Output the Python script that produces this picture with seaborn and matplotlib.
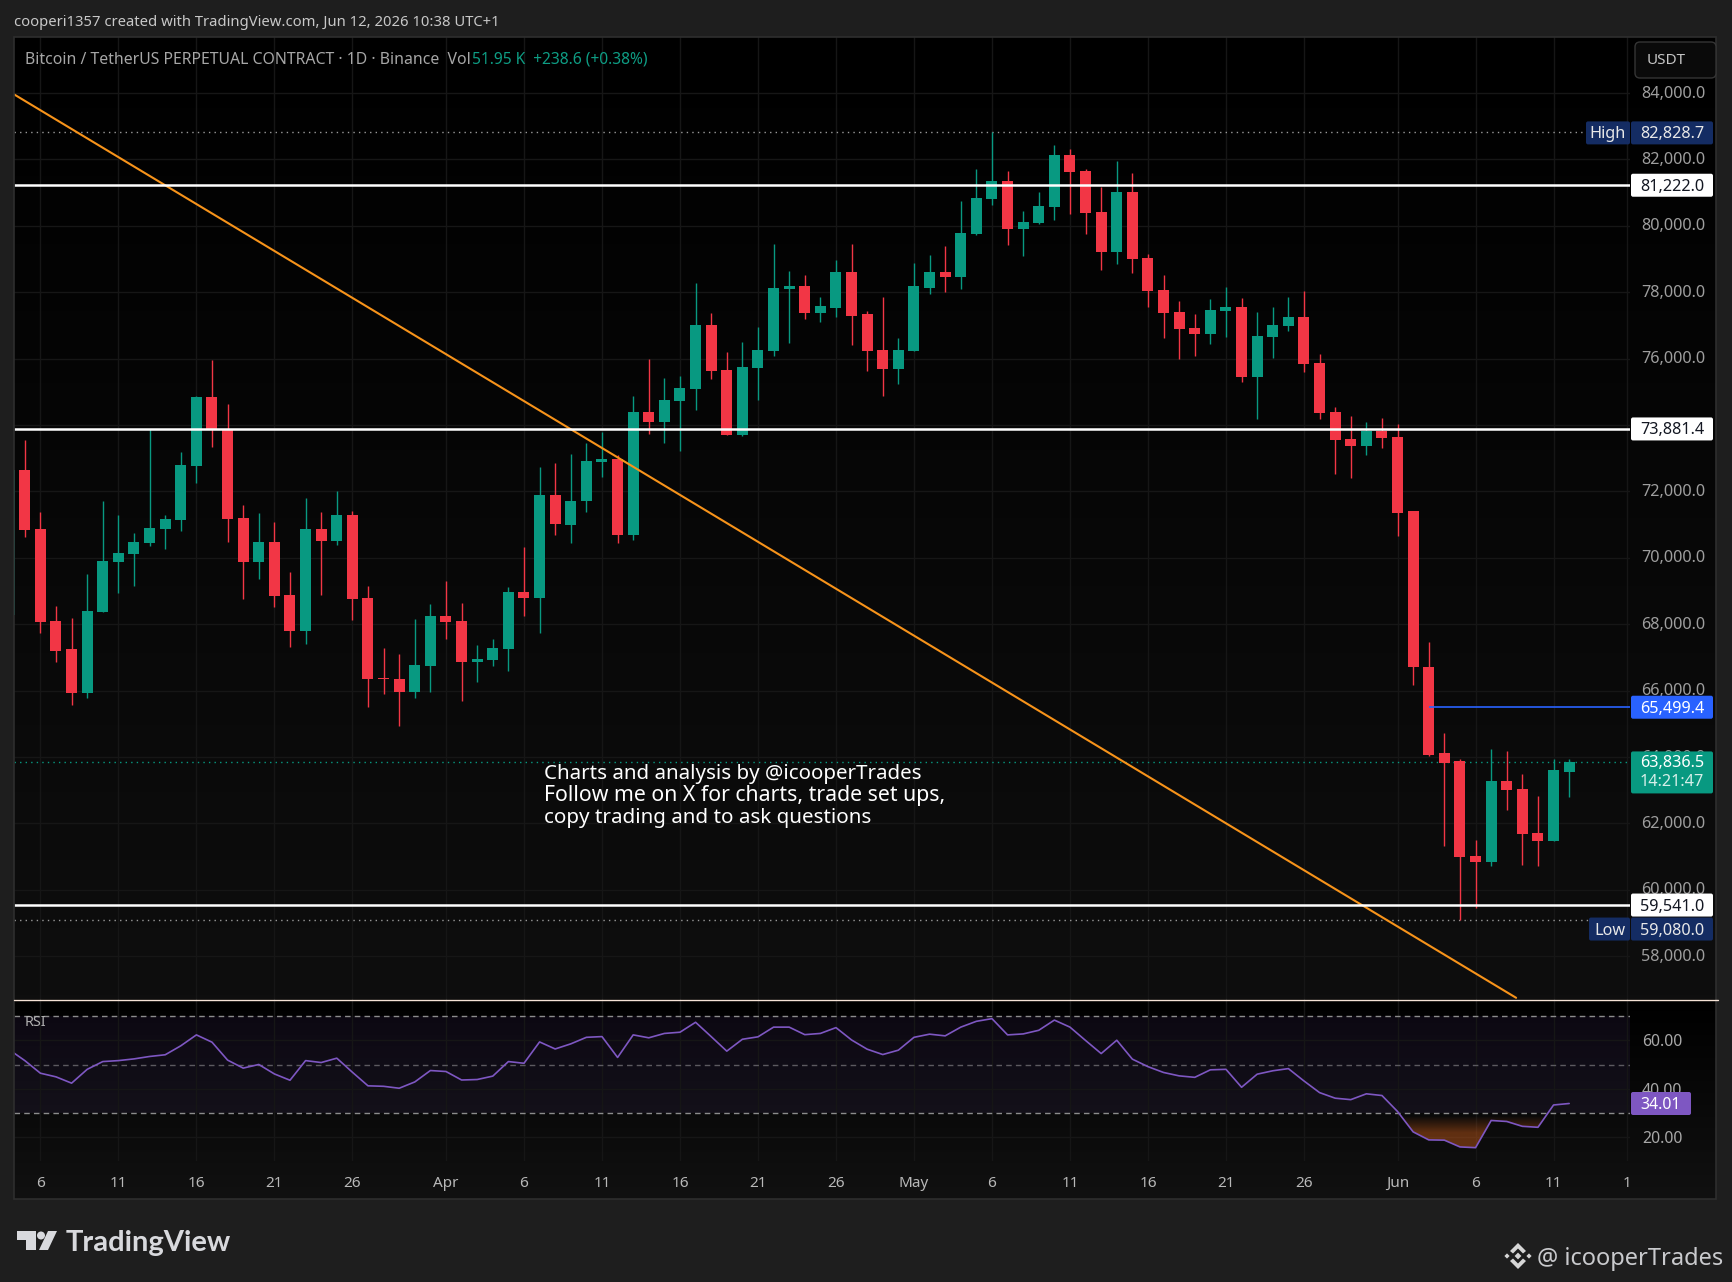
import numpy as np
import pandas as pd
import matplotlib
matplotlib.use("Agg")
import matplotlib.pyplot as plt
import seaborn as sns
from matplotlib.colors import LinearSegmentedColormap
from matplotlib.patches import FancyBboxPatch, Polygon, Circle, Rectangle
from matplotlib.transforms import ScaledTranslation

W, H = 1733, 1282

# daily candles, Mar 4 -> Jun 12
opens = [
    68273, 72630, 70853, 68082, 67239, 65913, 68353, 69859, 70100, 70431, 70853, 71124, 72751, 74829,
    73865, 71184, 69859, 70462, 68865, 67781, 70853, 70492, 71275, 68775, 66365, 66335, 65943, 66727,
    68233, 68082, 66847, 66907, 67239, 68985, 68775, 71877, 71003, 71696, 72871, 72991, 70672, 74377,
    74076, 74738, 75070, 77027, 75642, 73714, 75732, 76244, 78082, 78202, 77359, 77539, 78594, 77329,
    76274, 75702, 76244, 78141, 78623, 78472, 79767, 80822, 81364, 79918, 80099, 80581, 82147, 81665,
    80430, 79225, 81033, 79045, 78081, 77418, 76936, 76756, 77448, 77569, 75460, 76665, 76996, 77268,
    75882, 74406, 73593, 73382, 73834, 73653, 71395, 66726, 64106, 63865, 61033, 60823, 63292, 63051,
    61696, 61455, 63563,
]
closes = [
    72630, 70823, 68052, 67208, 65913, 68383, 69889, 70130, 70462, 70883, 71154, 72781, 74829, 73835,
    71154, 69859, 70462, 68835, 67781, 70853, 70492, 71275, 68745, 66335, 66335, 65943, 66757, 68233,
    68052, 66847, 66937, 67269, 68985, 68775, 71877, 71004, 71726, 72901, 72991, 70672, 74377, 74076,
    74768, 75100, 77027, 75612, 73714, 75762, 76274, 78112, 78202, 77359, 77570, 78594, 77298, 76244,
    75702, 76274, 78172, 78623, 78472, 79797, 80852, 81364, 79918, 80129, 80611, 82147, 81635, 80400,
    79225, 81032, 79015, 78051, 77388, 76906, 76756, 77478, 77569, 75460, 76695, 77027, 77268, 75852,
    74376, 73563, 73382, 73834, 73623, 71364, 66696, 64075, 63834, 61003, 60823, 63292, 63021, 61666,
    61455, 63594, 63836.5,
]
highs = [
    72630, 73534, 71365, 68534, 68172, 69498, 71726, 71275, 70733, 73865, 71275, 73202, 74859, 75973,
    74618, 71576, 71335, 71064, 69558, 71787, 71365, 71998, 71395, 69136, 67269, 67088, 68142, 68594,
    69287, 68624, 67359, 67540, 69106, 70311, 72721, 72841, 73112, 73443, 73775, 73082, 74859, 76003,
    75401, 75491, 78292, 77359, 76184, 76515, 76967, 79437, 78624, 78533, 77841, 78985, 79437, 77419,
    77841, 76606, 78865, 79135, 79406, 80761, 81725, 82828.7, 81665, 80460, 81032, 82448, 82328, 81725,
    81183, 81966, 81605, 79165, 78533, 77749, 77358, 77810, 78171, 77840, 77418, 77569, 77870, 78051,
    76153, 74557, 74286, 74105, 74225, 74045, 71395, 67479, 64738, 63955, 61515, 64256, 64166, 63503,
    62840, 63925, 63925,
]
lows = [
    68273, 70622, 67721, 66847, 65552, 65763, 68353, 68925, 69136, 70341, 70251, 70793, 72239, 73323,
    70462, 68745, 69347, 68504, 67299, 67389, 68865, 70371, 68112, 65492, 65883, 64919, 65763, 65943,
    67540, 65672, 66245, 66727, 66576, 68233, 67721, 70672, 70431, 71365, 72449, 70461, 70522, 73744,
    73443, 73232, 74467, 75371, 73684, 73654, 74768, 76064, 76485, 77178, 77088, 77268, 76395, 75612,
    74859, 75250, 76244, 77960, 78020, 78111, 79737, 80641, 79436, 79105, 80069, 80189, 80370, 79767,
    78683, 78864, 78593, 77569, 76635, 76003, 76093, 76454, 76665, 75310, 74195, 76033, 76846, 75611,
    74195, 72539, 72418, 73111, 73322, 70652, 66154, 64045, 61334, 59080, 59467, 60702, 62389, 60762,
    60702, 61455, 62810,
]
rsi = [
    56.2, 51.7, 46.5, 45.0, 42.4, 48.1, 51.3, 51.7, 52.4, 53.4, 54.1, 57.8, 62.3, 59.3, 51.9, 48.6, 50.1,
    46.2, 43.6, 51.7, 50.9, 52.7, 46.9, 41.3, 41.1, 40.3, 42.9, 47.6, 47.2, 43.7, 43.9, 45.3, 51.3, 50.6,
    59.4, 56.5, 58.6, 61.3, 61.6, 53.0, 62.3, 61.1, 62.9, 63.4, 67.5, 61.6, 55.6, 60.5, 61.5, 65.5, 65.5,
    62.4, 62.9, 65.3, 60.2, 56.4, 54.2, 56.0, 61.3, 62.6, 61.9, 65.5, 67.9, 69.0, 62.3, 62.7, 64.2, 68.4,
    65.5, 60.0, 54.6, 60.1, 52.3, 49.2, 46.8, 45.4, 44.8, 47.9, 48.1, 40.7, 46.1, 47.5, 48.4, 43.3, 38.5,
    36.2, 35.6, 38.0, 37.3, 30.7, 22.3, 19.0, 18.9, 16.1, 15.8, 27.0, 26.6, 24.6, 24.2, 33.4, 34.01,
]
days = list(range(-2, 99))  # 0 is Mar 6

x_ticks = [0, 5, 10, 15, 20, 26, 31, 36, 41, 46, 51, 56, 61, 66, 71, 76, 81, 87, 92, 97, 101.7]
x_labels = ["6", "11", "16", "21", "26", "Apr", "6", "11", "16", "21", "26", "May", "6", "11", "16", "21", "26",
            "Jun", "6", "11", "1"]
price_ticks = list(range(58000, 86000, 2000))
rsi_ticks = [20, 40, 60]

trend_x = [-1.692, 94.6]
trend_y = [83960, 56747]
white_levels = [81222.0, 73881.4, 59541.0]
blue_level = 65499.4
blue_start = 89
high_value = 82828.7
low_value = 59080.0
last_price = 63836.5

note_lines = ["Charts and analysis by @icooperTrades", "Follow me on X for charts, trade set ups,",
              "copy trading and to ask questions"]

UP = "#089981"
DOWN = "#f23645"
NAVY = "#142c63"
FONT = "Noto Sans"
XLIM = (-1.692, 101.9)


def px_axes(fig, x0, y0, x1, y1, **kw):
    # axes from pixel box, y measured from the top of the image
    return fig.add_axes([x0 / W, 1 - y1 / H, (x1 - x0) / W, (y1 - y0) / H], **kw)


def gradient(fig, x0, y0, x1, y1, top, bottom):
    ax = px_axes(fig, x0, y0, x1, y1, zorder=0)
    cmap = LinearSegmentedColormap.from_list("pane", [top, bottom])
    ax.imshow(np.linspace(0, 1, 256)[:, None], aspect="auto", cmap=cmap)
    ax.axis("off")


def style_axes(ax):
    ax.set_facecolor("none")
    for s in ax.spines.values():
        s.set_visible(False)
    ax.set_xlabel("")
    ax.set_ylabel("")
    ax.set_xlim(*XLIM)
    ax.set_xticks(x_ticks)
    ax.grid(True, color="#161616", lw=1.0)
    ax.set_axisbelow(True)


def draw_price(ax, fig):
    df = pd.DataFrame({"day": days, "open": opens, "high": highs, "low": lows, "close": closes})
    df["color"] = np.where(df["close"] >= df["open"], UP, DOWN)
    ax.vlines(df["day"], df["low"], df["high"], colors=df["color"], lw=1.0, zorder=3)
    ax.bar(df["day"], (df["close"] - df["open"]).abs(), bottom=df[["open", "close"]].min(axis=1),
           width=0.705, color=df["color"], lw=0, zorder=3)
    ax.plot(trend_x, trend_y, color="#f7931a", lw=1.5, zorder=4)
    ax.hlines(white_levels, XLIM[0], XLIM[1], colors="white", lw=1.8, zorder=5)
    ax.hlines(blue_level, blue_start, XLIM[1], colors="#2962ff", lw=1.2, zorder=5)
    ax.hlines(high_value, XLIM[0], 99.08, colors="#9a9a9a", lw=1, linestyles=(0, (1, 3)), zorder=2)
    ax.hlines(low_value, XLIM[0], 99.27, colors="#9a9a9a", lw=1, linestyles=(0, (1, 3)), zorder=2)
    ax.hlines(last_price, XLIM[0], XLIM[1], colors=UP, lw=1, linestyles=(0, (1, 3)), zorder=2)

    ax.set_ylim(56711, 85687)
    style_axes(ax)
    ax.set_xticklabels([])
    ax.tick_params(axis="x", length=0, labelbottom=False)
    ax.yaxis.tick_right()
    ax.set_yticks(price_ticks)
    ax.set_yticklabels([f"{p:,.1f}" for p in price_ticks], fontsize=11.7, color="#9e9e9e", family=FONT)
    ax.tick_params(axis="y", length=0, pad=8.0)
    up = ScaledTranslation(0, 1.5 / 100, fig.dpi_scale_trans)
    for lab in ax.get_yticklabels():
        lab.set_transform(lab.get_transform() + up)


def draw_rsi(ax):
    ax.axhspan(30, 70, color="#7e57c2", alpha=0.09, lw=0, zorder=0)
    sns.lineplot(x=days, y=rsi, ax=ax, color="#7e57c2", lw=1.2, zorder=4)
    for level, col in [(70, "#8c8c8c"), (50, "#5c5a60"), (30, "#8c8c8c")]:
        ax.hlines(level, XLIM[0], XLIM[1], colors=col, lw=1, linestyles=(0, (4, 3)), zorder=2)

    # oversold area fades out towards the 30 level
    d = np.array(days, dtype=float)
    r = np.array(rsi)
    fill = ax.fill_between(d, r, 30, where=r < 30, interpolate=True, color="none", lw=0)
    rgba = np.zeros((64, 1, 4))
    rgba[..., :3] = matplotlib.colors.to_rgb("#d8621a")
    rgba[:, 0, 3] = np.clip((np.linspace(0, 15, 64) - 1) / 7 * 0.42, 0, 0.42)
    im = ax.imshow(rgba, extent=(85, 97, 15, 30), origin="upper", aspect="auto", zorder=3)
    im.set_clip_path(fill.get_paths()[0], ax.transData)

    ax.set_ylim(10.3, 77.1)
    style_axes(ax)
    ax.set_xticklabels(x_labels, fontsize=11, color="#b8b8b8", family=FONT)
    ax.tick_params(axis="x", length=0, pad=10.7)
    ax.yaxis.tick_right()
    ax.set_yticks(rsi_ticks)
    ax.set_yticklabels([f"{v:.2f}" for v in rsi_ticks], fontsize=11.4, color="#a8a8a8", family=FONT)
    ax.tick_params(axis="y", length=0, pad=8.6)


def tag(ov, x0, x1, yc, h, color, text, text_color, fs=11.7):
    box = FancyBboxPatch((x0, yc - h / 2), x1 - x0, h, boxstyle="round,pad=0,rounding_size=2",
                         fc=color, ec="none", zorder=5)
    ov.add_patch(box)
    ov.text((x0 + x1) / 2, yc + 1.5, text, color=text_color, fontsize=fs, family=FONT,
            ha="center", va="center", zorder=6)


def logo(ov):
    grey = "#d8d9dd"
    t = [(17, 1231), (36, 1231), (36, 1250), (26, 1250), (26, 1240), (17, 1240)]
    s = [(48, 1231), (57, 1231), (48, 1250), (39, 1250)]
    ov.add_patch(Polygon(t, fc=grey, ec="none"))
    ov.add_patch(Polygon(s, fc=grey, ec="none"))
    ov.add_patch(Circle((41, 1235.5), 4, fc=grey, ec="none"))
    ov.text(66, 1243, "TradingView", color=grey, fontsize=21, family="Lato", weight="bold", va="center")

    cx, cy = 1518, 1256
    c2 = "#d6d6d6"
    for dx, dy, r in [(0, 0, 3.4), (-11, 0, 2.6), (11, 0, 2.6)]:
        ov.add_patch(Polygon([(cx + dx - r, cy + dy), (cx + dx, cy + dy - r), (cx + dx + r, cy + dy), (cx + dx, cy + dy + r)],
                             fc=c2, ec="none"))
    for sgn in (-1, 1):
        ov.add_patch(Polygon([(cx - 8, cy + sgn * 5), (cx, cy + sgn * 13), (cx + 8, cy + sgn * 5), (cx + 5, cy + sgn * 2.5),
                              (cx, cy + sgn * 7.5), (cx - 5, cy + sgn * 2.5)], fc=c2, ec="none"))
    ov.text(1537, 1259, "@ icooperTrades", color="#c9cacd", fontsize=17, family=FONT, va="center")


def main():
    sns.set_theme(style="dark")
    plt.rcParams["font.family"] = [FONT, "DejaVu Sans"]
    plt.rcParams["axes.unicode_minus"] = False

    fig = plt.figure(figsize=(W / 100, H / 100), dpi=100, facecolor="#1e1e1e")
    gradient(fig, 14, 37, 1716, 999, "#000000", "#0e0e0e")
    gradient(fig, 14, 999, 1716, 1199, "#000000", "#111111")

    ax = px_axes(fig, 14, 37, 1630, 999, zorder=2)
    ax_rsi = px_axes(fig, 14, 999, 1630, 1161, zorder=2)
    draw_price(ax, fig)
    draw_rsi(ax_rsi)

    ov = px_axes(fig, 0, 0, W, H, zorder=5)
    ov.set_xlim(0, W)
    ov.set_ylim(H, 0)
    ov.axis("off")
    ov.patch.set_alpha(0)

    def py(value, a=ax):
        return H - a.transData.transform((0, value))[1]

    # frame and pane separator
    ov.add_patch(Rectangle((14, 37), 1702, 1162, fc="none", ec="#2e2e2e", lw=1.2))
    ov.plot([14, 1718], [999.5, 999.5], color="#f6e3d6", lw=1)

    ov.text(14, 23, "cooperi1357 created with TradingView.com, Jun 12, 2026 10:38 UTC+1",
            color="#c8c8c8", fontsize=10.67, va="center")
    ov.text(25, 60, "Bitcoin / TetherUS PERPETUAL CONTRACT · 1D · Binance  Vol", color="#a6a6a6", fontsize=11.4, va="center")
    ov.text(472, 60, "51.95 K  +238.6 (+0.38%)", color="#0e9d84", fontsize=11.2, va="center")
    ov.text(25, 1023, "RSI", color="#b0b0b0", fontsize=10.4, va="center")

    ov.add_patch(FancyBboxPatch((1635, 42), 81, 36, boxstyle="round,pad=0,rounding_size=5", fc="#0a0a0a", ec="#353535", lw=1))
    ov.text(1647, 60, "USDT", color="#c4c4c4", fontsize=11, va="center")

    for line, y, fs in zip(note_lines, [774, 796, 818], [14.75, 15.3, 14.85]):
        ov.text(544, y, line, color="white", fontsize=fs, va="center")

    # price tags
    for v in white_levels:
        tag(ov, 1631, 1713, py(v), 23, "white", f"{v:,.1f}", "#131722")
    tag(ov, 1631, 1713, py(blue_level), 23, "#2962ff", f"{blue_level:,.1f}", "white")
    tag(ov, 1631, 1713, py(high_value) + 1, 23, NAVY, f"{high_value:,.1f}", "#e8e8e8")
    tag(ov, 1586, 1630, py(high_value) + 1, 23, NAVY, "High", "#e8e8e8")
    tag(ov, 1631, 1713, py(low_value) + 8.7, 23, NAVY, f"{low_value:,.1f}", "#e8e8e8")
    tag(ov, 1589, 1630, py(low_value) + 8.7, 23, NAVY, "Low", "#e8e8e8")
    yc = py(last_price) + 10
    tag(ov, 1631, 1713, yc, 42, UP, "", "white")
    ov.text(1672, yc - 9, f"{last_price:,.1f}", color="white", fontsize=11.7, ha="center", va="center", zorder=6)
    ov.text(1672, yc + 9.5, "14:21:47", color="#d6efe9", fontsize=11.7, ha="center", va="center", zorder=6)
    tag(ov, 1631, 1691, py(rsi[-1], ax_rsi), 23, "#7e57c2", f"{rsi[-1]:.2f}", "white", fs=11.4)

    logo(ov)
    fig.savefig("out.png", dpi=100, facecolor=fig.get_facecolor())


if __name__ == "__main__":
    main()
